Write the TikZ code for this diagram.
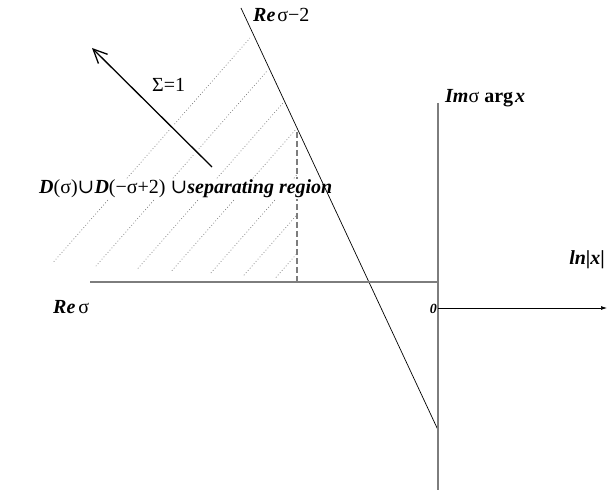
\documentclass[tikz,border=0pt]{standalone}
\usepackage{fontspec}
\setmainfont{Liberation Serif}
\newfontfamily\unionfont{DejaVu Serif}
\usetikzlibrary{arrows.meta}
\definecolor{axisgray}{RGB}{125,125,125}
\newcommand{\bfit}[1]{\textbf{\textit{#1}}}

\begin{document}
\begin{tikzpicture}[x=1pt, y=-1pt, every node/.style={font=\fontsize{20}{22}\selectfont, inner sep=0pt},
  hatch/.style={axisgray, line width=0.7pt, dash pattern=on 0.8pt off 2.2pt},
  axis/.style={axisgray, line width=1.6pt}]
  \useasboundingbox (0,0) rectangle (608,497);
  % end points
  \coordinate (re0) at (90,282);
  \coordinate (orig) at (438,282);
  \coordinate (im0) at (438,103);
  \coordinate (im1) at (438,490);
  \coordinate (ln0) at (438,308);
  \coordinate (ln1) at (607,308);
  \coordinate (top) at (241,8);
  \coordinate (bot) at (438,430);
  \coordinate (dtop) at (297,132);
  \coordinate (dbot) at (297,282);
  \coordinate (tail) at (212,167);
  \coordinate (head) at (92,48);
  % hatched region
  \begin{scope}
    \clip (30,261.5) -- (297,280) -- (dtop) -- (249,36) -- (30,36) -- cycle;
    \foreach \x in {36,82,126,162,203,238,272} { \draw[hatch] (\x,282) -- ++(250,-285); }
  \end{scope}
  \draw[axis, line width=1.2pt, dash pattern=on 6pt off 3pt] (dtop) -- (dbot);
  \node[fill=white, inner sep=1pt, anchor=base west] (region) at (38,194)
    {\bfit{D}(σ){\unionfont ∪}\bfit{D}(−σ+2) {\unionfont ∪}\bfit{separating region}};
  \draw[line width=0.7pt] (top) -- (bot);
  \draw[axis] (re0) -- (orig);
  \draw[axis] (im0) -- (im1);
  \draw[-{Latex[length=6pt, width=4pt]}, line width=0.7pt] (ln0) -- (ln1);
  \draw[-{Straight Barb[length=14pt, width=13pt]}, line width=1.3pt,
    preaction={draw=white, line width=7pt}] (tail) -- (head);
  % labels
  \node[anchor=base west] (retwo) at (253,22) {\bfit{Re}\hspace{2pt}σ−2};
  \node[anchor=base west] (sum) at (152,92) {Σ=1};
  \node[anchor=base west] (imag) at (445,103) {\bfit{Im}σ \textbf{arg}\hspace{2pt}\bfit{x}};
  \node[anchor=base east] (lnx) at (605,265) {\bfit{ln}\textbf{|}\bfit{x}\textbf{|}};
  \node[anchor=base west] (resig) at (53,313) {\bfit{Re}\hspace{3pt}σ};
  \node[anchor=base east, font=\fontsize{14}{16}\selectfont] (zero) at (437,313) {\bfit{0}};
\end{tikzpicture}
\end{document}
